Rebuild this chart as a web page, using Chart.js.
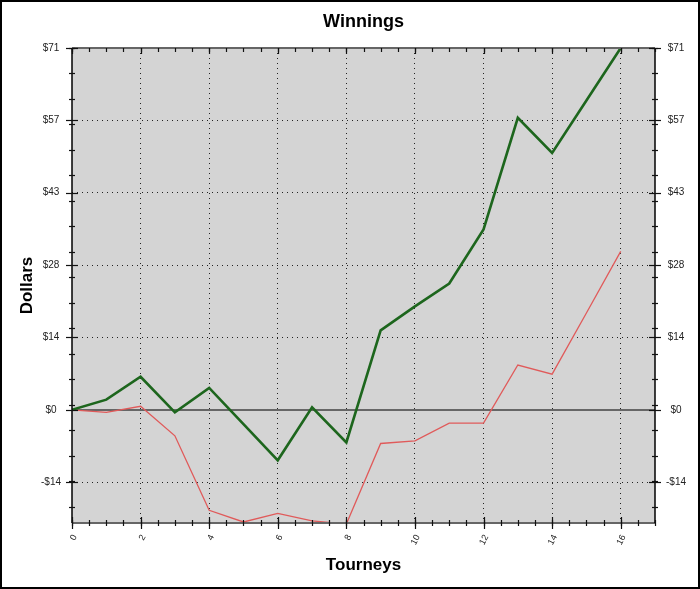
<!DOCTYPE html>
<html><head><meta charset="utf-8">
<script src="https://cdn.jsdelivr.net/npm/chart.js@4"></script>
<style>html,body{margin:0;padding:0;background:#fff;}#wrap{width:700px;height:589px;}</style>
</head><body><div id="wrap"><canvas id="c" width="700" height="589"></canvas></div>
<script>
// ---- data ----
const tourneys = [0, 1, 2, 3, 4, 5, 6, 7, 8, 9, 10, 11, 12, 13, 14, 15, 16];
const greenSeries = [0, 2.0, 6.5, -0.5, 4.3, -2.8, -9.9, 0.5, -6.4, 15.6, 20.3, 24.8, 35.4, 57.3, 50.4, 60.7, 71];
const redSeries = [0, -0.5, 0.7, -5.1, -19.7, -22.0, -20.3, -21.8, -22.4, -6.6, -6.1, -2.6, -2.6, 8.8, 7.0, 19.0, 31.1];
const xTickValues = [0, 2, 4, 6, 8, 10, 12, 14, 16];
const xMinorTicks = [0, 0.5, 1, 1.5, 2, 2.5, 3, 3.5, 4, 4.5, 5, 5.5, 6, 6.5, 7, 7.5, 8, 8.5, 9, 9.5, 10, 10.5, 11, 11.5, 12, 12.5, 13, 13.5, 14, 14.5, 15, 15.5, 16, 16.5, 17];
const yTickValues = [-14.2, 0, 14.2, 28.4, 42.6, 56.8, 71];
const yTickLabels = ['-$14', '$0', '$14', '$28', '$43', '$57', '$71'];
const yMinorTicks = [71, 66, 61, 56, 51, 46, 41, 36, 31, 26, 21, 16, 11, 6, 1, -4, -9, -14, -19];
const xRange = [0, 17];
const yRange = [-22.2, 71];

const FONT = "'Liberation Sans', Arial, sans-serif";

function yLabel(v) {
  const i = yTickValues.findIndex(t => Math.abs(t - v) < 1e-6);
  return i >= 0 ? yTickLabels[i] : '';
}

const framePlugin = {
  id: 'frame',
  beforeDraw(chart) {
    const {ctx, chartArea: a} = chart;
    ctx.save();
    ctx.fillStyle = '#fff';
    ctx.fillRect(0, 0, chart.width, chart.height);
    ctx.fillStyle = '#d4d4d4';
    ctx.fillRect(a.left, a.top, a.right - a.left, a.bottom - a.top);
    ctx.restore();
  },
  afterDatasetsDraw(chart) {
    const {ctx, chartArea: a, scales} = chart;
    const xs = scales.x, ys = scales.y;
    const line = (x1, y1, x2, y2) => { ctx.beginPath(); ctx.moveTo(x1, y1); ctx.lineTo(x2, y2); ctx.stroke(); };
    ctx.save();
    ctx.strokeStyle = '#666'; ctx.lineWidth = 2;
    line(a.left, a.top, a.right, a.top);
    line(a.left, a.bottom, a.right, a.bottom);
    ctx.strokeStyle = '#000'; ctx.lineWidth = 1.5;
    line(a.left, a.top, a.left, a.bottom);
    line(a.right, a.top, a.right, a.bottom);
    ctx.lineWidth = 1.2; ctx.strokeStyle = '#111';
    yMinorTicks.forEach(v => {
      const p = Math.round(ys.getPixelForValue(v)) + 0.5;
      line(a.left - 3, p, a.left + 3, p);
      line(a.right - 3, p, a.right + 3, p);
    });
    yTickValues.forEach(v => {
      const p = Math.round(ys.getPixelForValue(v)) + 0.5;
      line(a.left - 6, p, a.left + 6, p);
      line(a.right - 6, p, a.right + 6, p);
    });
    xMinorTicks.forEach(v => {
      const p = Math.round(xs.getPixelForValue(v)) + 0.5;
      line(p, a.bottom - 3, p, a.bottom + 3);
      line(p, a.top, p, a.top + 4);
    });
    xTickValues.forEach(v => {
      const p = Math.round(xs.getPixelForValue(v)) + 0.5;
      line(p, a.bottom - 6, p, a.bottom + 6);
      line(p, a.top, p, a.top + 6);
    });
    ctx.strokeStyle = '#000'; ctx.lineWidth = 2;
    ctx.strokeRect(1, 1, chart.width - 2, chart.height - 2);
    ctx.restore();
  }
};

const toPoints = arr => tourneys.map((t, i) => ({x: t, y: arr[i]}));

new Chart(document.getElementById('c'), {
  type: 'line',
  data: {
    datasets: [
      {label: 'Winnings', data: toPoints(greenSeries), borderColor: '#1d661d', borderWidth: 2.6, pointRadius: 0, tension: 0, fill: false},
      {label: 'Other', data: toPoints(redSeries), borderColor: '#e05a5a', borderWidth: 1.3, pointRadius: 0, tension: 0, fill: false}
    ]
  },
  options: {
    responsive: false,
    animation: false,
    devicePixelRatio: 1,
    layout: {padding: 0},
    plugins: {
      legend: {display: false},
      tooltip: {enabled: false},
      title: {
        display: true, text: 'Winnings', fullSize: false, color: '#000',
        font: {family: FONT, size: 18, weight: 'bold', lineHeight: 1.2},
        padding: {top: 11, bottom: 15.4}
      }
    },
    scales: {
      x: {
        type: 'linear', position: 'bottom', min: xRange[0], max: xRange[1],
        afterBuildTicks: s => { s.ticks = xTickValues.map(v => ({value: v})); },
        afterFit: s => { s.height = 66; },
        ticks: {autoSkip: false, minRotation: 62, maxRotation: 62, padding: 10, labelOffset: 3, color: '#222', font: {family: FONT, size: 9}},
        grid: {drawTicks: false, color: ctx => (ctx.tick && ctx.tick.value === 0) ? 'rgba(0,0,0,0)' : '#222', lineWidth: 1},
        border: {display: false, dash: [1, 4]},
        title: {display: true, text: 'Tourneys', color: '#000', font: {family: FONT, size: 17, weight: 'bold', lineHeight: 1.2}, padding: {top: 0, bottom: 13}}
      },
      y: {
        type: 'linear', position: 'left', min: yRange[0], max: yRange[1],
        afterBuildTicks: s => { s.ticks = yTickValues.map(v => ({value: v})); },
        afterFit: s => { s.width = 72; },
        ticks: {callback: v => yLabel(v), crossAlign: 'center', padding: 11, color: '#222', font: {family: FONT, size: 10}},
        grid: {
          drawTicks: false,
          color: ctx => (ctx.tick && ctx.tick.value === 0) ? '#666' : (ctx.tick && ctx.tick.value === 71 ? 'rgba(0,0,0,0)' : '#222'),
          lineWidth: ctx => (ctx.tick && ctx.tick.value === 0) ? 2 : 1
        },
        border: {display: false, dash: ctx => (ctx.tick && ctx.tick.value === 0) ? [] : [1, 4]},
        title: {display: true, text: 'Dollars', color: '#000', font: {family: FONT, size: 17, weight: 'bold', lineHeight: 1.2}, padding: {top: 17, bottom: 0}}
      },
      y2: {
        type: 'linear', position: 'right', min: yRange[0], max: yRange[1],
        afterBuildTicks: s => { s.ticks = yTickValues.map(v => ({value: v})); },
        afterFit: s => { s.width = 45; },
        ticks: {callback: v => yLabel(v), crossAlign: 'center', padding: 11, color: '#222', font: {family: FONT, size: 10}},
        grid: {drawTicks: false, drawOnChartArea: false},
        border: {display: false}
      }
    }
  },
  plugins: [framePlugin]
});
</script>
</body></html>
